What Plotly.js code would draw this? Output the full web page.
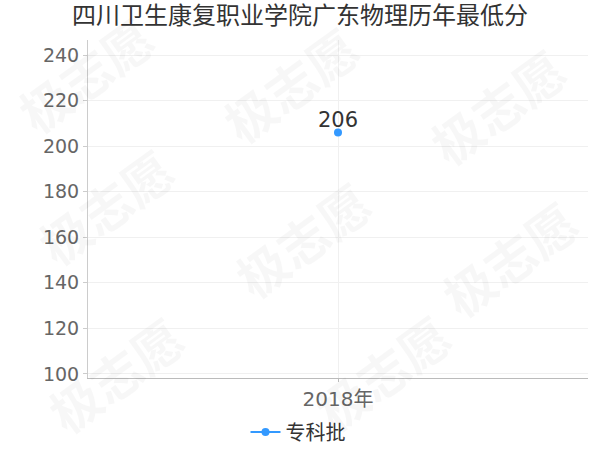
<!DOCTYPE html>
<html>
<head>
<meta charset="utf-8">
<script src="https://cdn.plot.ly/plotly-3.0.1.min.js"></script>
<style>
  body { margin: 0; background: #fff; }
  #chart { width: 600px; height: 450px; }
</style>
</head>
<body>
<div id="chart"></div>
<script>
let years = ['2018年'];
let scores = [206];
let seriesName = '专科批';
let yTicks = [100, 120, 140, 160, 180, 200, 220, 240];

let font = 'DejaVu Sans, Noto Sans CJK SC, sans-serif';

trace1 = {
    x: years,
    y: scores,
    type: 'scatter',
    mode: 'lines+markers',
    marker: { color: '#3399ff', size: 8 },
    line: { color: '#3399ff', width: 2 },
    name: seriesName,
    cliponaxis: false,
    hoverinfo: 'x+y'
};

// value labels sit just above each point
let labels = years.map(function (yr, i) {
    return {
        x: yr, y: scores[i],
        text: String(scores[i]),
        showarrow: false,
        xanchor: 'center', yanchor: 'middle',
        yshift: 12,
        font: { family: font, size: 21, color: '#333' }
    };
});

// watermark "极志愿" spread over the background
let wmSpots = [[88, 78], [293, 88], [500, 110], [108, 210], [305, 243], [512, 262], [118, 378], [385, 376]];
let marks = wmSpots.map(function (p) {
    return {
        xref: 'paper', yref: 'paper',
        x: (p[0] - 88) / 500, y: (378 - p[1]) / 338,
        xanchor: 'center', yanchor: 'middle',
        text: '<b>极志愿</b>',
        showarrow: false,
        textangle: -36,
        font: { family: font, size: 50, color: 'rgba(0,0,0,0.03)' }
    };
});

layout = {
    width: 600,
    height: 450,
    margin: { l: 88, r: 12, t: 40, b: 72 },
    paper_bgcolor: '#fff',
    plot_bgcolor: '#fff',
    font: { family: font, color: '#666' },
    title: {
        text: '四川卫生康复职业学院广东物理历年最低分',
        font: { size: 24, color: '#333' },
        x: 0.5, xanchor: 'center',
        xref: 'container', yref: 'container',
        y: 0.966, yanchor: 'middle'
    },
    xaxis: {
        type: 'category',
        showline: true,
        linecolor: '#bbb',
        linewidth: 1,
        showgrid: true,
        gridcolor: '#f0f0f0',
        ticks: 'outside',
        ticklen: 3,
        tickcolor: '#bbb',
        tickfont: { size: 20, color: '#666' },
        zeroline: false
    },
    yaxis: {
        range: [98.2, 246.6],
        tickvals: yTicks,
        showline: true,
        linecolor: '#ccc',
        linewidth: 1,
        showgrid: true,
        gridcolor: '#f0f0f0',
        ticks: 'outside',
        ticklen: 4,
        tickcolor: '#ccc',
        tickfont: { size: 19, color: '#666' },
        zeroline: false
    },
    showlegend: true,
    legend: {
        orientation: 'h',
        x: 0.42, xanchor: 'center',
        yref: 'container',
        y: 0.04, yanchor: 'middle',
        font: { size: 20, color: '#333' }
    },
    annotations: marks.concat(labels)
};

graf = document.getElementById('chart');
Plotly.newPlot(graf, [trace1], layout, { displayModeBar: false });
</script>
</body>
</html>
